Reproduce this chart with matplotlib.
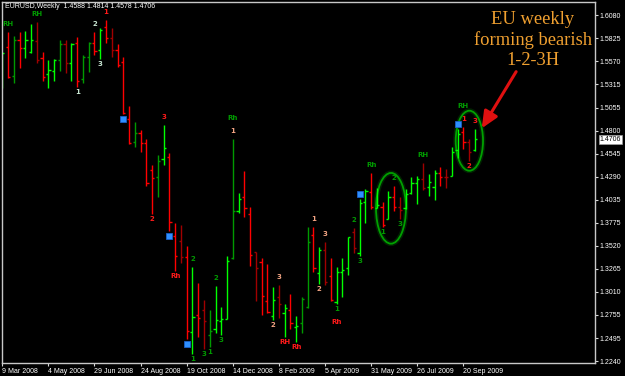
import matplotlib
matplotlib.use("Agg")
import matplotlib.pyplot as plt
from matplotlib.patches import Ellipse
from matplotlib.transforms import ScaledTranslation
import numpy as np

# weekly EURUSD bars, 9 Mar 2008 .. 4 Oct 2009
opens = [1.5362, 1.5725, 1.5406, 1.5806, 1.5721, 1.5676, 1.5795, 1.5603, 1.5429, 1.5465,
         1.5584, 1.5758, 1.5554, 1.5776, 1.5373, 1.5614, 1.5776, 1.5695, 1.5954, 1.5825,
         1.5695, 1.5565, 1.4926, 1.4677, 1.4770, 1.4659, 1.4363, 1.4282, 1.4482, 1.4504,
         1.3630, 1.3578, 1.3394, 1.2568, 1.2750, 1.2809, 1.2528, 1.2595, 1.2687, 1.2712,
         1.3383, 1.3905, 1.4067, 1.3871, 1.3449, 1.3338, 1.2909, 1.2746, 1.2957, 1.2779,
         1.2809, 1.2617, 1.2661, 1.2839, 1.3642, 1.3216, 1.3475, 1.3186, 1.2898, 1.3234,
         1.3272, 1.3675, 1.3438, 1.4011, 1.4122, 1.3938, 1.3956, 1.3820, 1.4060, 1.3949,
         1.3938, 1.4104, 1.4215, 1.4260, 1.4171, 1.4178, 1.4326, 1.4289, 1.4296, 1.4585,
         1.4788, 1.4677, 1.4588]
highs = [1.5676, 1.5898, 1.5850, 1.5891, 1.5906, 1.5980, 1.6009, 1.5676, 1.5584, 1.5595,
         1.5806, 1.5806, 1.5776, 1.5836, 1.5640, 1.5780, 1.5898, 1.5936, 1.6028, 1.5943,
         1.5762, 1.5614, 1.5073, 1.4899, 1.4807, 1.4704, 1.4419, 1.4530, 1.4863, 1.4555,
         1.3778, 1.3753, 1.3519, 1.3283, 1.3112, 1.2920, 1.2809, 1.3075, 1.2839, 1.3408,
         1.4707, 1.4104, 1.4352, 1.3949, 1.3449, 1.3383, 1.3320, 1.3061, 1.3087, 1.2876,
         1.2983, 1.2742, 1.2950, 1.3734, 1.3727, 1.3512, 1.3567, 1.3383, 1.3290, 1.3383,
         1.3623, 1.3723, 1.4041, 1.4152, 1.4333, 1.4160, 1.4011, 1.4130, 1.4185, 1.4060,
         1.4149, 1.4282, 1.4296, 1.4437, 1.4319, 1.4363, 1.4393, 1.4371, 1.4615, 1.4815,
         1.4837, 1.4704, 1.4814]
lows = [1.5270, 1.5381, 1.5325, 1.5492, 1.5610, 1.5658, 1.5547, 1.5351, 1.5270, 1.5351,
        1.5465, 1.5443, 1.5351, 1.5288, 1.5332, 1.5454, 1.5640, 1.5595, 1.5776, 1.5614,
        1.5503, 1.4981, 1.4648, 1.4622, 1.4560, 1.4185, 1.3871, 1.4067, 1.4419, 1.3689,
        1.3242, 1.3334, 1.2484, 1.2321, 1.2513, 1.2376, 1.2395, 1.2550, 1.2532, 1.2706,
        1.3375, 1.3889, 1.3838, 1.3301, 1.2912, 1.2754, 1.2772, 1.2698, 1.2717, 1.2506,
        1.2595, 1.2450, 1.2550, 1.2828, 1.3234, 1.3098, 1.3087, 1.2912, 1.2876, 1.2950,
        1.3198, 1.3445, 1.3408, 1.3778, 1.3927, 1.3938, 1.3734, 1.3816, 1.3911, 1.3816,
        1.3927, 1.4093, 1.3986, 1.4141, 1.4074, 1.4030, 1.4185, 1.4167, 1.4296, 1.4493,
        1.4593, 1.4463, 1.4578]
closes = [1.5662, 1.5399, 1.5806, 1.5721, 1.5806, 1.5806, 1.5584, 1.5399, 1.5473, 1.5584,
          1.5758, 1.5547, 1.5758, 1.5351, 1.5614, 1.5776, 1.5687, 1.5917, 1.5825, 1.5695,
          1.5529, 1.4996, 1.4659, 1.4770, 1.4659, 1.4222, 1.4274, 1.4466, 1.4604, 1.3789,
          1.3408, 1.3394, 1.2579, 1.2735, 1.2720, 1.2687, 1.2576, 1.2698, 1.2706, 1.3356,
          1.3905, 1.4041, 1.3938, 1.3416, 1.3272, 1.2968, 1.2790, 1.2920, 1.2872, 1.2828,
          1.2668, 1.2631, 1.2928, 1.3567, 1.3272, 1.3475, 1.3120, 1.2920, 1.3234, 1.3253,
          1.3616, 1.3497, 1.4000, 1.4133, 1.3956, 1.3975, 1.3753, 1.4060, 1.3949, 1.3919,
          1.4093, 1.4215, 1.4260, 1.4160, 1.4230, 1.4326, 1.4289, 1.4282, 1.4566, 1.4759,
          1.4677, 1.4566, 1.4706]
# bar colour code: g/G = up bright/dark, r/R = down bright/dark
shade = ("grGrggRrgg" "GRgrGGrgrR" "rrrGrrrGgr" "rRrgrRGggg"
         "GgrrRrrgRg" "rgGGrgRrgg" "gRggrgrgrR" "gggRggrRgg" "rRg")

xtick_pos = [0, 8, 16, 24, 32, 40, 48, 56, 64, 72, 80]
xtick_labels = ["9 Mar 2008", "4 May 2008", "29 Jun 2008", "24 Aug 2008", "19 Oct 2008",
                "14 Dec 2008", "8 Feb 2009", "5 Apr 2009", "31 May 2009", "26 Jul 2009",
                "20 Sep 2009"]
ytick_vals = [1.6080, 1.5825, 1.5570, 1.5315, 1.5055, 1.4800, 1.4545, 1.4290,
              1.4035, 1.3775, 1.3520, 1.3265, 1.3010, 1.2755, 1.2495, 1.2240]

# pattern labels: bar index, text, colour key, where
lab_bar = [1, 6, 16, 17, 13, 18, 28, 26, 30, 33, 33, 35, 36, 37, 38, 40, 40, 47, 48,
           49, 51, 54, 55, 56, 58, 58, 61, 62, 64, 66, 68, 69, 73, 80, 80, 81, 82]
lab_text = ["RH", "RH", "2", "3", "1", "1", "3", "2", "Rh", "2", "1", "3", "1", "2", "3",
            "Rh", "1", "2", "3", "RH", "Rh", "1", "2", "3", "1", "Rh", "2", "3", "Rh",
            "1", "2", "3", "RH", "RH", "1", "2", "3"]
lab_col = ["dg", "dg", "pale", "pale", "pale", "red", "red", "red", "red", "dg", "dg",
           "dg", "dg", "dg", "dg", "dg", "salmon", "salmon", "salmon", "red", "red",
           "salmon", "salmon", "salmon", "dg", "red", "dg", "dg", "dg", "dg", "dg", "dg",
           "dg", "dg", "red", "red", "red"]
lab_pos = ["hi", "hi", "hi", "lo", "lo", "hi", "hi", "lo", "lo", "hi", "lo", "lo", "lo",
           "hi", "lo", "hi2", "hi", "lo", "hi", "lo", "lo", "hi", "lo", "hi", "lo", "lo2",
           "hi", "lo", "hi", "lo", "hi", "lo", "hi", "hi2", "hi", "lo", "hi"]
b_bar = [21, 29, 32, 62, 79]
b_pos = ["lo", "lo", "lo", "hi", "hi"]

bar_colors = {"g": "#00FF00", "G": "#009A00", "r": "#FF0000", "R": "#A00000"}
text_colors = {"dg": "#009A00", "pale": "#C8E6D2", "red": "#FF1A1A", "salmon": "#F4A584"}
px_off = {"hi": 8, "hi2": 21, "lo": -5, "lo2": -18}

fig = plt.figure(figsize=(6.25, 3.76), dpi=100, facecolor="black")
ax = fig.add_axes([2 / 625, 13 / 376, 593 / 625, 361 / 376])
ax.set_facecolor("black")

n = len(opens)
x = np.arange(n)
cols = [bar_colors[c] for c in shade]
ax.vlines(x, lows, highs, colors=cols, lw=1.0)
ax.hlines(opens, x - 0.38, x, colors=cols, lw=1.0)
ax.hlines(closes, x, x + 0.38, colors=cols, lw=1.0)

pt = 72 / 100
for b, t, c, p in zip(lab_bar, lab_text, lab_col, lab_pos):
    y = highs[b] if p.startswith("hi") else lows[b]
    ax.annotate(t, (b, y), xytext=(0, px_off[p] * pt), textcoords="offset points",
                ha="center", va="center", fontsize=5, fontweight="bold",
                color=text_colors[c])

for b, p in zip(b_bar, b_pos):
    y = highs[b] if p == "hi" else lows[b]
    off = 5 if p == "hi" else -5
    shift = ScaledTranslation(0, off / 100, fig.dpi_scale_trans)
    ax.plot([b], [y], marker="s", ms=3.8, mfc="#2E8FFF", mec="#1A5FC8", mew=0.6,
            transform=ax.transData + shift, clip_on=False)

# ellipses around the 1-2-3 patterns
for cx, cy, w, h in [(67.45, 1.3938, 5.2, 0.0785), (81.05, 1.4688, 4.74, 0.0666)]:
    ax.add_patch(Ellipse((cx, cy), w, h, fill=False, ec="#006400", lw=3.5, alpha=0.35))
    ax.add_patch(Ellipse((cx, cy), w, h, fill=False, ec="#00A000", lw=1.3))

# comment and arrow
ax.text(0.8955, 0.8947, "EU weekly\nforming bearish\n1-2-3H", transform=ax.transAxes,
        ha="center", va="center", multialignment="center", fontsize=13.3,
        family="Liberation Serif", color="#F0A030", linespacing=1.2)
tip = (n - 1 + 1.2, highs[-1] + 0.0012)
ax.annotate("", xy=tip, xytext=(0.867, 0.807), textcoords="axes fraction",
            arrowprops=dict(arrowstyle="-|>,head_length=1.0,head_width=0.45",
                            mutation_scale=10, lw=2.2, color="#E01010",
                            shrinkA=0, shrinkB=0))

ax.text(3 / 593, 1 - 4.8 / 361,
        "EURUSD,Weekly  %.4f %.4f %.4f %.4f" % (opens[-1], highs[-1], lows[-1], closes[-1]),
        transform=ax.transAxes, ha="left", va="center", fontsize=5,
        family="Liberation Sans", color="white")

ax.set_xlim(-0.05, 102.85)
ax.set_ylim(1.2221, 1.6228)

ax.yaxis.tick_right()
ax.set_yticks(ytick_vals)
ax.set_yticklabels(["%.4f" % v for v in ytick_vals])
ax.set_xticks(xtick_pos)
ax.set_xticklabels(xtick_labels)
ax.tick_params(axis="both", colors="#D8D8D8", labelcolor="white", labelsize=5,
               length=2.2, width=0.8, direction="out", pad=1.2)
for lab in ax.get_xticklabels():
    lab.set_ha("left")
    lab.set_family("Liberation Sans")
for lab in ax.get_yticklabels():
    lab.set_family("Liberation Sans")
for s in ax.spines.values():
    s.set_color("#C8C8C8")
    s.set_linewidth(1.0)

ax.annotate("%.4f" % closes[-1], (1.0, closes[-1]), xycoords=("axes fraction", "data"),
            xytext=(3.5, 0), textcoords="offset points", ha="left", va="center",
            fontsize=5, family="Liberation Sans", color="black", annotation_clip=False,
            bbox=dict(boxstyle="square,pad=0.15", fc="white", ec="#A0A0A0", lw=0.5))

fig.savefig("out.png", dpi=100, facecolor="black")
